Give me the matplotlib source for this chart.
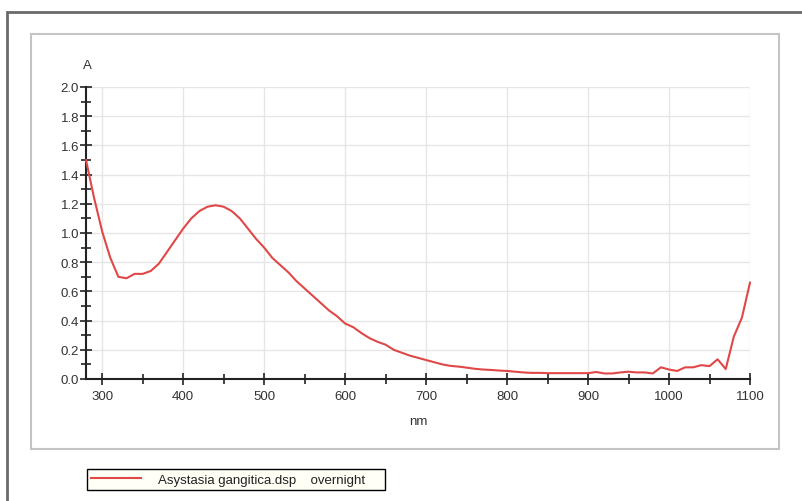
import matplotlib
matplotlib.use("Agg")
import matplotlib.pyplot as plt
from matplotlib.patches import Rectangle
from matplotlib.ticker import MultipleLocator

plt.rcParams['font.family'] = ['Liberation Sans', 'DejaVu Sans']

wavelength_nm = list(range(280, 1101, 10))
absorbance = [
    1.50, 1.24, 1.01, 0.83, 0.70, 0.69, 0.72, 0.72, 0.74, 0.79,
    0.87, 0.95, 1.03, 1.10, 1.15, 1.18, 1.19, 1.18, 1.15, 1.10,
    1.03, 0.96, 0.90, 0.83, 0.78, 0.73, 0.67, 0.62, 0.57, 0.52,
    0.47, 0.43, 0.38, 0.355, 0.315, 0.28, 0.255, 0.235, 0.20, 0.18,
    0.16, 0.145, 0.13, 0.115, 0.10, 0.09, 0.085, 0.078, 0.07, 0.065,
    0.062, 0.058, 0.055, 0.05, 0.045, 0.042, 0.042, 0.04, 0.04, 0.04,
    0.04, 0.04, 0.04, 0.048, 0.038, 0.038, 0.045, 0.05, 0.045, 0.045,
    0.038, 0.08, 0.065, 0.055, 0.08, 0.08, 0.095, 0.088, 0.135, 0.068,
    0.29, 0.42, 0.66,
]
series_label = "Asystasia gangitica.dsp    overnight"
x_label = "nm"
y_label = "A"

W, H = 803, 502
fig = plt.figure(figsize=(W / 100, H / 100), dpi=100)
fig.patch.set_facecolor('white')

def fx(px):
    return px / W

def fy(py):
    return 1 - py / H

# outer frame
fig.patches.append(Rectangle((fx(7), fy(560)), fx(900), fy(13) - fy(560),
                             transform=fig.transFigure, fill=False,
                             edgecolor='#6a6a6a', linewidth=2.0, zorder=-2))
# inner panel
fig.patches.append(Rectangle((fx(31), fy(450)), fx(779) - fx(31), fy(35) - fy(450),
                             transform=fig.transFigure, fill=False,
                             edgecolor='#c4c4c4', linewidth=1.5, zorder=-2))
# legend box
fig.patches.append(Rectangle((fx(87), fy(491)), fx(385) - fx(87), fy(470) - fy(491),
                             transform=fig.transFigure, facecolor='#fffff6',
                             edgecolor='black', linewidth=1.0, zorder=-1))

ax = fig.add_axes([fx(86), fy(380), fx(750) - fx(86), fy(88) - fy(380)])
ax.patch.set_alpha(0)
ax.plot(wavelength_nm, absorbance, color='#e04848', linewidth=1.5,
        label=series_label, clip_on=False, zorder=3)

ax.set_xlim(280, 1100)
ax.set_ylim(0, 2.0)
ax.xaxis.set_major_locator(MultipleLocator(100))
ax.xaxis.set_minor_locator(MultipleLocator(50))
ax.yaxis.set_major_locator(MultipleLocator(0.2))
ax.yaxis.set_minor_locator(MultipleLocator(0.1))
ax.yaxis.set_major_formatter(plt.FuncFormatter(lambda v, p: f"{v:.1f}"))
ax.set_xticks([t for t in range(300, 1101, 100)])

for s in ['top', 'right']:
    ax.spines[s].set_visible(False)
for s in ['left', 'bottom']:
    ax.spines[s].set_color('#222222')
    ax.spines[s].set_linewidth(1.5)

ax.grid(True, which='major', color='#e6e6e6', linewidth=1.0)
ax.set_axisbelow(True)
ax.tick_params(which='both', direction='inout', colors='#222222',
               labelcolor='#333333', labelsize=9.5, width=1.2)
ax.tick_params(which='major', length=8)
ax.tick_params(which='minor', length=7)
ax.tick_params(axis='y', pad=1)
ax.tick_params(axis='x', pad=4)

fig.text(fx(87), fy(66), y_label, ha='center', va='center', fontsize=9.5, color='#333333')
fig.text(fx(418), fy(422), x_label, ha='center', va='center', fontsize=9.5, color='#333333')

leg = ax.legend(loc='center left', bbox_to_anchor=(fx(87), fy(480.5)),
                bbox_transform=fig.transFigure, borderaxespad=0,
                frameon=False, fontsize=9.5,
                handlelength=3.8, handletextpad=1.3, borderpad=0.3)
for t in leg.get_texts():
    t.set_color('#222222')

fig.savefig('out.png', dpi=100)
